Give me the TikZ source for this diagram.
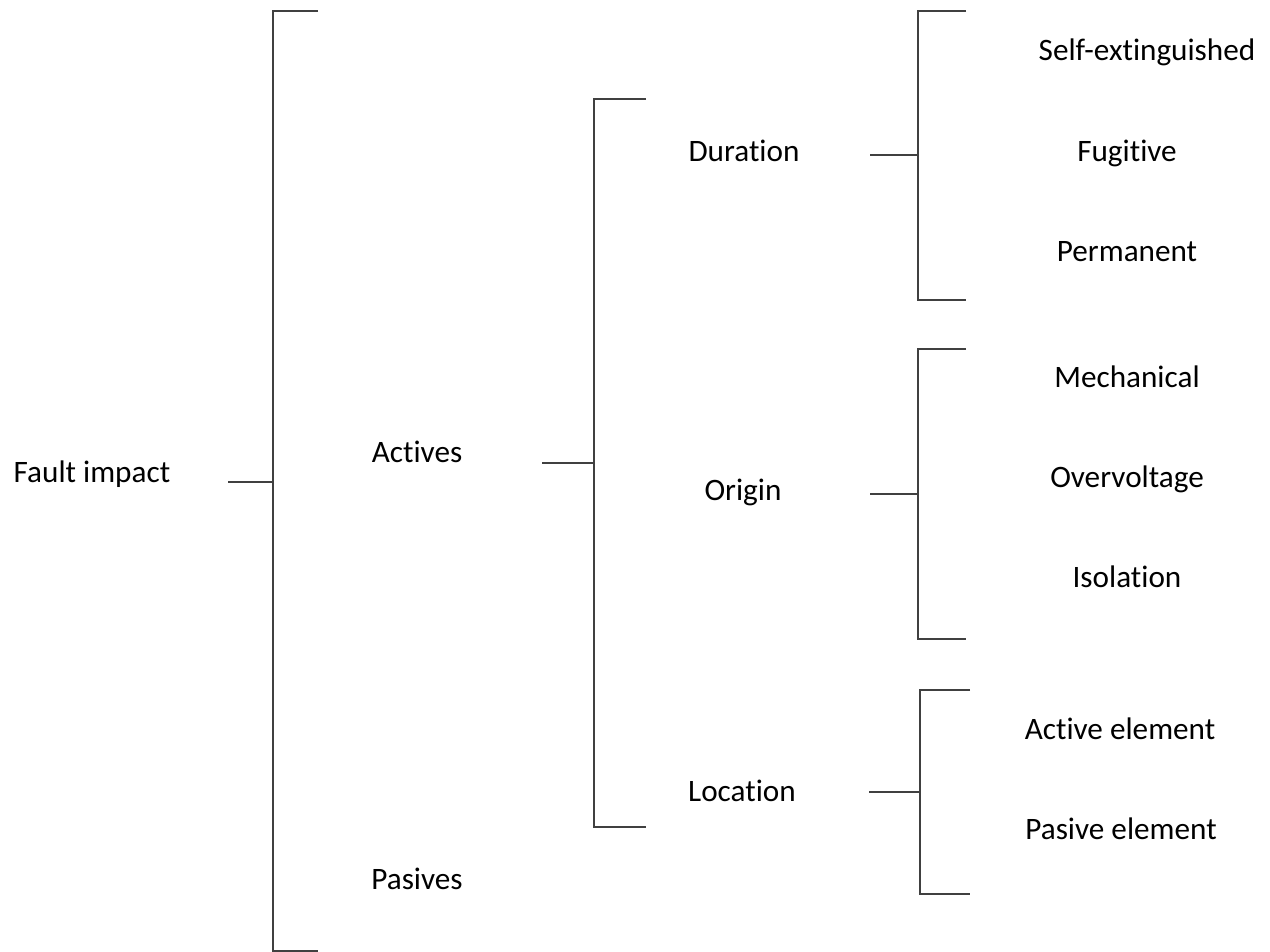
\documentclass[tikz,border=0pt]{standalone}
\usepackage{fontspec}
\setmainfont{Carlito}[Ligatures={NoCommon,NoContextual}]
\begin{document}
\begin{tikzpicture}[x=0.75pt,y=-0.75pt,
  lbl/.style={anchor=mid,inner sep=0pt,font=\fontsize{23.4}{28}\selectfont,text=black},
  brk/.style={draw=black!75,line width=1.5pt,line cap=butt,line join=miter},
  stub/.style={draw=black!75,line width=1.5pt}]
\useasboundingbox (0,0) rectangle (1270,952);

% labels
\node[lbl] (fault) at (92,479) {Fault impact};
\node[lbl] (act) at (417,459) {Actives};
\node[lbl] (pas) at (417,886) {Pasives};
\node[lbl] (dur) at (744,158) {Duration};
\node[lbl] (ori) at (743,497) {Origin};
\node[lbl] (loc) at (742,798) {Location};
\node[lbl] (selfx) at (1147,57) {Self-extinguished};
\node[lbl] (fug) at (1127,158) {Fugitive};
\node[lbl] (perm) at (1127,258) {Permanent};
\node[lbl] (mech) at (1127,384) {Mechanical};
\node[lbl] (over) at (1127,484) {Overvoltage};
\node[lbl] (iso) at (1127,584) {Isolation};
\node[lbl] (acte) at (1120,736) {Active element};
\node[lbl] (pase) at (1121,836) {Pasive element};

% bracket anchor points
\coordinate (b1s) at (228,482);  \coordinate (b1m) at (273,482);
\coordinate (b1t) at (318,11);   \coordinate (b1b) at (318,951);
\coordinate (b2s) at (542,463);  \coordinate (b2m) at (594,463);
\coordinate (b2t) at (646,99);   \coordinate (b2b) at (646,827);
\coordinate (b3s) at (870,155);  \coordinate (b3m) at (918,155);
\coordinate (b3t) at (966,11);   \coordinate (b3b) at (966,300);
\coordinate (b4s) at (870,494);  \coordinate (b4m) at (918,494);
\coordinate (b4t) at (966,349);  \coordinate (b4b) at (966,639);
\coordinate (b5s) at (869,792);  \coordinate (b5m) at (920,792);
\coordinate (b5t) at (970,690);  \coordinate (b5b) at (970,894);

% brackets: Fault impact -> Actives / Pasives
\draw[stub] (b1s) -- (b1m);
\draw[brk] (b1t) -- (b1m |- b1t) -- (b1m |- b1b) -- (b1b);
% Actives -> Duration / Origin / Location
\draw[stub] (b2s) -- (b2m);
\draw[brk] (b2t) -- (b2m |- b2t) -- (b2m |- b2b) -- (b2b);
% Duration
\draw[stub] (b3s) -- (b3m);
\draw[brk] (b3t) -- (b3m |- b3t) -- (b3m |- b3b) -- (b3b);
% Origin
\draw[stub] (b4s) -- (b4m);
\draw[brk] (b4t) -- (b4m |- b4t) -- (b4m |- b4b) -- (b4b);
% Location
\draw[stub,line width=1.1pt] (b5s) -- (b5m);
\draw[brk] (b5t) -- (b5m |- b5t) -- (b5m |- b5b) -- (b5b);
\end{tikzpicture}
\end{document}
